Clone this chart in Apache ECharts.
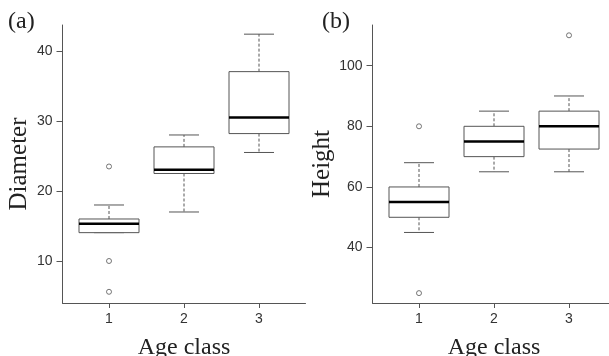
<!DOCTYPE html>
<html><head><meta charset="utf-8">
<script src="https://cdn.jsdelivr.net/npm/echarts@6/dist/echarts.min.js"></script>
<style>html,body{margin:0;padding:0;background:#fff}#c{width:609px;height:356px}</style>
</head><body><div id="c"></div>
<script>
// Data
const categories = [1, 2, 3];
const xTicks = [1, 2, 3];
// Panel (a) Diameter
const diamLow  = [14.05, 17.0, 25.5];
const diamQ1   = [14.05, 22.5, 28.2];
const diamMed  = [15.33, 23.04, 30.5];
const diamQ3   = [16.0, 26.3, 37.05];
const diamHigh = [18.0, 28.0, 42.4];
const diamOutliers = [[1, 23.5], [1, 10.0], [1, 5.6]];
const diamTicks = [10, 20, 30, 40];
// Panel (b) Height
const hLow  = [45, 65, 65];
const hQ1   = [50, 70, 72.5];
const hMed  = [55, 75, 80];
const hQ3   = [60, 80, 85];
const hHigh = [68, 85, 90];
const hOutliers = [[1, 80], [1, 25], [3, 110]];
const hTicks = [40, 60, 80, 100];

const GRAY = '#555';
function boxData(lo, q1, me, q3, hi) {
  return categories.map((c, i) => [c, lo[i], q1[i], me[i], q3[i], hi[i]]);
}
function renderBox(params, api) {
  const x = api.value(0);
  const lo = api.coord([x, api.value(1)]);
  const q1 = api.coord([x, api.value(2)]);
  const me = api.coord([x, api.value(3)]);
  const q3 = api.coord([x, api.value(4)]);
  const hi = api.coord([x, api.value(5)]);
  const w = api.size([0.8, 0])[0];
  const cw = w / 2;
  const cx = lo[0];
  const children = [];
  const dash = {stroke: GRAY, lineWidth: 1, lineDash: [3, 2]};
  const solid = {stroke: GRAY, lineWidth: 1};
  if (hi[1] < q3[1]) {
    children.push({type: 'line', shape: {x1: cx, y1: q3[1], x2: cx, y2: hi[1]}, style: dash});
  }
  children.push({type: 'line', shape: {x1: cx - cw / 2, y1: hi[1], x2: cx + cw / 2, y2: hi[1]}, style: solid});
  if (lo[1] > q1[1]) {
    children.push({type: 'line', shape: {x1: cx, y1: q1[1], x2: cx, y2: lo[1]}, style: dash});
  }
  children.push({type: 'line', shape: {x1: cx - cw / 2, y1: lo[1], x2: cx + cw / 2, y2: lo[1]}, style: solid});
  children.push({type: 'rect', shape: {x: cx - w / 2, y: q3[1], width: w, height: q1[1] - q3[1]},
    style: {fill: '#fff', stroke: GRAY, lineWidth: 1}});
  children.push({type: 'line', shape: {x1: cx - w / 2, y1: me[1], x2: cx + w / 2, y2: me[1]},
    style: {stroke: '#000', lineWidth: 2.5}});
  return {type: 'group', children};
}
const tickLabel = {color: '#333', fontFamily: 'Liberation Sans', fontSize: 14};
const serif = 'Liberation Serif';
function xAxis(gi) {
  return {
    type: 'value', gridIndex: gi, min: 0.38, max: 3.62,
    name: 'Age class', nameLocation: 'middle', nameGap: 33,
    nameTextStyle: {fontFamily: serif, fontSize: 24, color: '#222'},
    axisLine: {show: true, lineStyle: {color: GRAY, width: 1}},
    axisTick: {show: true, length: 5, customValues: xTicks, lineStyle: {color: GRAY}},
    axisLabel: {...tickLabel, margin: 9, customValues: xTicks},
    splitLine: {show: false}
  };
}
function yAxis(gi, min, max, ticks, name, gap) {
  return {
    type: 'value', gridIndex: gi, min, max,
    name, nameLocation: 'middle', nameGap: gap,
    nameTextStyle: {fontFamily: serif, fontSize: 25, color: '#222'},
    axisLine: {show: true, lineStyle: {color: GRAY, width: 1}},
    axisTick: {show: true, length: 6, customValues: ticks, lineStyle: {color: GRAY}},
    axisLabel: {...tickLabel, margin: 10, customValues: ticks},
    splitLine: {show: false}
  };
}
const chart = echarts.init(document.getElementById('c'), null, {renderer: 'canvas'});
chart.setOption({
  animation: false,
  backgroundColor: '#fff',
  grid: [
    {left: 62.5, top: 25, width: 243, height: 278, containLabel: false, outerBoundsMode: 'none'},
    {left: 372.5, top: 25, width: 243, height: 278, containLabel: false, outerBoundsMode: 'none'}
  ],
  xAxis: [xAxis(0), xAxis(1)],
  yAxis: [
    yAxis(0, 4.0, 43.71, diamTicks, 'Diameter', 31),
    yAxis(1, 21.74, 113.4, hTicks, 'Height', 37)
  ],
  graphic: [
    {type: 'text', left: 8, top: 10, style: {text: '(a)', fontFamily: serif, fontSize: 24, fill: '#222'}},
    {type: 'text', left: 322, top: 10, style: {text: '(b)', fontFamily: serif, fontSize: 24, fill: '#222'}}
  ],
  series: [
    {type: 'custom', xAxisIndex: 0, yAxisIndex: 0, renderItem: renderBox,
     data: boxData(diamLow, diamQ1, diamMed, diamQ3, diamHigh), encode: {x: 0, y: [1, 2, 3, 4, 5]}},
    {type: 'scatter', xAxisIndex: 0, yAxisIndex: 0, symbol: 'circle', symbolSize: 5,
     itemStyle: {color: '#fff', borderColor: GRAY, borderWidth: 1}, data: diamOutliers},
    {type: 'custom', xAxisIndex: 1, yAxisIndex: 1, renderItem: renderBox,
     data: boxData(hLow, hQ1, hMed, hQ3, hHigh), encode: {x: 0, y: [1, 2, 3, 4, 5]}},
    {type: 'scatter', xAxisIndex: 1, yAxisIndex: 1, symbol: 'circle', symbolSize: 5,
     itemStyle: {color: '#fff', borderColor: GRAY, borderWidth: 1}, data: hOutliers}
  ]
});
</script></body></html>
